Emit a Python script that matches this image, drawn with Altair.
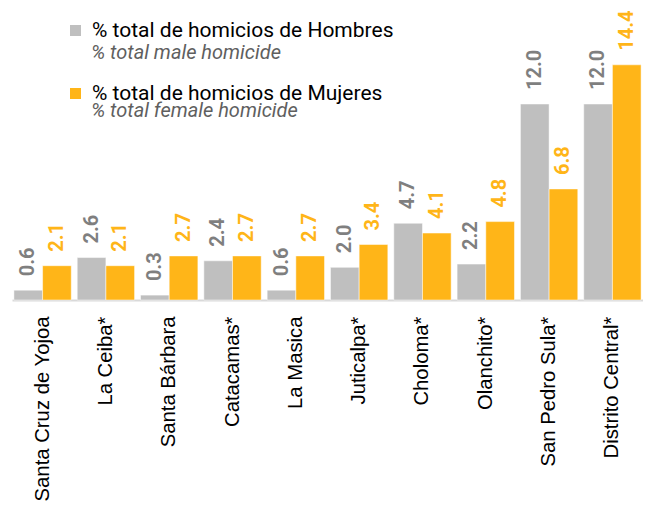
import altair as alt
import pandas as pd

ciudades = ["Santa Cruz de Yojoa", "La Ceiba*", "Santa Bárbara", "Catacamas*", "La Masica",
            "Juticalpa*", "Choloma*", "Olanchito*", "San Pedro Sula*", "Distrito Central*"]
hombres = [0.6, 2.6, 0.3, 2.4, 0.6, 2.0, 4.7, 2.2, 12.0, 12.0]
mujeres = [2.1, 2.1, 2.7, 2.7, 2.7, 3.4, 4.1, 4.8, 6.8, 14.4]
series = ["% total de homicios de Hombres", "% total de homicios de Mujeres"]
subtitulos = ["% total male homicide", "% total female homicide"]
colores = ["#bfbfbf", "#ffb518"]
colores_texto = ["#7f7f7f", "#ffb518"]

rows = []
for i, c in enumerate(ciudades):
    rows.append(dict(ciudad=c, serie=series[0], valor=hombres[i], orden=0))
    rows.append(dict(ciudad=c, serie=series[1], valor=mujeres[i], orden=1))
df = pd.DataFrame(rows)

x = alt.X("ciudad:N", sort=ciudades,
          scale=alt.Scale(paddingInner=0.094, paddingOuter=0.03, round=False),
          axis=alt.Axis(title=None, labelAngle=-90, labelFont="Liberation Sans",
                        labelFontSize=20.3, labelColor="#000000", domainColor="#d9d9d9",
                        domainWidth=2, ticks=False, labelPadding=16, labelLimit=0))
y = alt.Y("valor:Q", scale=alt.Scale(domain=[0, 15]), axis=None)
xo = alt.XOffset("serie:N", sort=series,
                 scale=alt.Scale(paddingInner=0, paddingOuter=0, round=False))

base = alt.Chart(df)

bars = base.mark_bar(stroke="white", strokeWidth=0.5).encode(
    x=x, y=y, xOffset=xo,
    color=alt.Color("serie:N", sort=series,
                    scale=alt.Scale(domain=series, range=colores),
                    legend=alt.Legend(title=None, orient="none", legendX=53, legendY=-35,
                                      symbolType="square", symbolSize=121,
                                      symbolStrokeWidth=0, symbolOpacity=1,
                                      labelFont="Roboto", labelFontSize=21,
                                      labelColor="#000000", labelOffset=6,
                                      labelLimit=0, rowPadding=41, padding=0)),
)

labels = base.mark_text(angle=270, align="left", baseline="middle", dx=14,
                        font="Roboto", fontWeight="bold", fontSize=20).encode(
    x=x, y=y, xOffset=xo,
    text=alt.Text("valor:Q", format=".1f"),
    color=alt.condition(alt.datum.orden == 0, alt.value(colores_texto[0]),
                        alt.value(colores_texto[1])),
)

sub1 = alt.Chart(pd.DataFrame({"t": [subtitulos[0]]})).mark_text(
    align="left", baseline="middle", font="Roboto", fontStyle="italic",
    fontSize=20, color="#5f5f5f").encode(text="t:N", x=alt.value(79), y=alt.value(-2))
sub2 = alt.Chart(pd.DataFrame({"t": [subtitulos[1]]})).mark_text(
    align="left", baseline="middle", font="Roboto", fontStyle="italic",
    fontSize=20, color="#5f5f5f").encode(text="t:N", x=alt.value(79), y=alt.value(56))

chart = alt.layer(bars, labels, sub1, sub2).properties(
    width=631, height=245,
    autosize=alt.AutoSizeParams(type="none"),
    padding={"left": 4, "top": 47, "right": 0, "bottom": 204},
    background="white",
).configure_view(stroke=None)

chart.save("out.html", embed_options={"renderer": "svg", "actions": False})
